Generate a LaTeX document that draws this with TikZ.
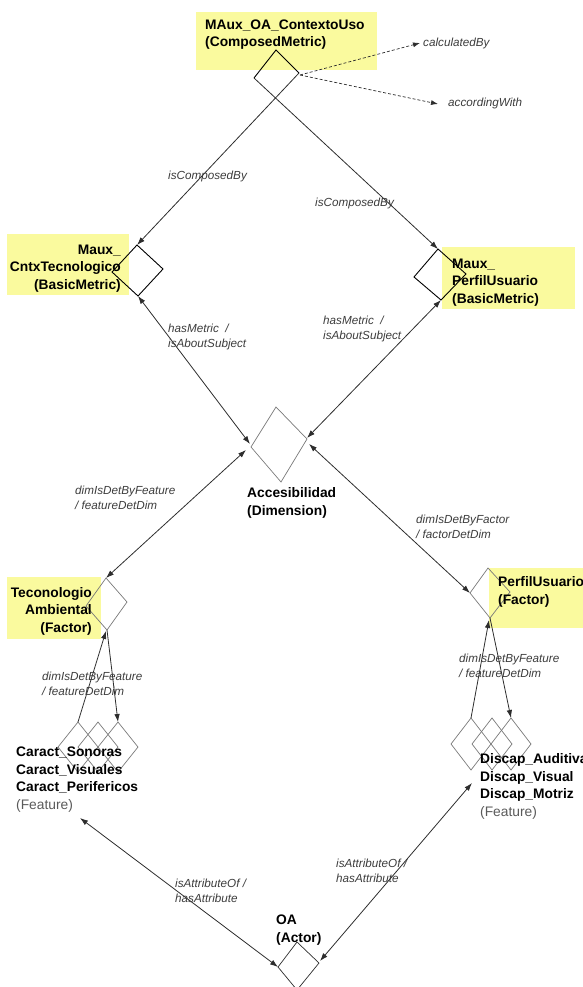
\documentclass[tikz,border=0pt]{standalone}
\usepackage{fontspec}
\setmainfont{Liberation Sans}
\usetikzlibrary{arrows.meta}
\definecolor{notepad}{RGB}{250,250,158}
\definecolor{linegray}{RGB}{45,45,45}
\definecolor{shapegray}{RGB}{120,120,120}
\definecolor{labelgray}{RGB}{60,60,60}
\definecolor{kindgray}{RGB}{90,90,90}

\tikzset{
  notebox/.style={fill=notepad, draw=none},
  nodetitle/.style={font=\fontsize{13.8}{17.5}\selectfont\bfseries, inner sep=0pt, text=black},
  rellabel/.style={font=\fontsize{11.7}{15}\selectfont\itshape, inner sep=0pt, text=labelgray, align=left, anchor=base west},
  connector/.style={draw=linegray, line width=0.8pt},
  oneway/.style={-{Latex[length=8pt,width=5.5pt]}},
  twoway/.style={{Latex[length=8pt,width=5.5pt]}-{Latex[length=8pt,width=5.5pt]}},
  outline/.style={draw=shapegray, line width=0.7pt},
  darkoutline/.style={draw=black, line width=0.9pt},
  optional/.style={draw=linegray, line width=0.7pt, dash pattern=on 3pt off 2pt, -{Latex[length=7pt,width=5pt]}},
}

\begin{document}
\begin{tikzpicture}[x=1pt, y=-1pt]
  \useasboundingbox (0,0) rectangle (583,987);

  % yellow name boxes
  \fill[notebox] (196,12) rectangle (377,70);
  \fill[notebox] (7,234) rectangle (129,295);
  \fill[notebox] (442,247) rectangle (575,309);
  \fill[notebox] (7,577) rectangle (101,639);
  \fill[notebox] (489,568) rectangle (583,628);

  % diamond corners
  \coordinate (cmT) at (276,50);
  \coordinate (cmR) at (299,73);
  \coordinate (cmL) at (254,78);

  \coordinate (cnT) at (137,245);
  \coordinate (cnR) at (163,269);
  \coordinate (cnB) at (138,296);
  \coordinate (cnL) at (112,272);

  \coordinate (puT) at (438,249);
  \coordinate (puR) at (466,274);
  \coordinate (puB) at (441,300);
  \coordinate (puL) at (414,277);

  \coordinate (acT) at (276,407);
  \coordinate (acR) at (307,439);
  \coordinate (acB) at (281,482);
  \coordinate (acL) at (251,447);

  \coordinate (taT) at (106,578);
  \coordinate (taR) at (127,602);
  \coordinate (taB) at (107,630);
  \coordinate (taL) at (86,606);

  \coordinate (pfT) at (488,568);
  \coordinate (pfR) at (510,592);
  \coordinate (pfB) at (490,618);
  \coordinate (pfL) at (470,593);

  \coordinate (oaT) at (297,942);
  \coordinate (oaR) at (319,963);
  \coordinate (oaB) at (297,990);
  \coordinate (oaL) at (278,967);

  % diamonds
  \draw[darkoutline] (cmL) -- (cmT) -- (cmR);
  \draw[darkoutline] (cnT) -- (cnR) -- (cnB) -- (cnL) -- cycle;
  \draw[darkoutline] (puT) -- (puR) -- (puB) -- (puL) -- cycle;
  \draw[outline] (acT) -- (acR) -- (acB) -- (acL) -- cycle;
  \draw[outline] (taT) -- (taR) -- (taB) -- (taL) -- cycle;
  \draw[outline] (pfT) -- (pfR) -- (pfB) -- (pfL) -- cycle;
  \draw[outline, draw=linegray] (oaT) -- (oaR) -- (oaB) -- (oaL) -- cycle;

  % feature diamonds
  \foreach \x [count=\i] in {78,98,118} {
    \coordinate (f\i T) at (\x,722);
    \draw[outline] (\x,722) -- ++(20,25) -- ++(-20,25) -- ++(-20,-25) -- cycle;
  }
  \foreach \x [count=\i] in {471,492,511} {
    \coordinate (g\i T) at (\x,718);
    \draw[outline] (\x,718) -- ++(20,26) -- ++(-20,26) -- ++(-20,-26) -- cycle;
  }

  % connector ends beside the diamond corners
  \coordinate (acLup) at (250,444);
  \coordinate (acLdn) at (246,450);
  \coordinate (acRup) at (307,438);
  \coordinate (acRdn) at (309,444);
  \coordinate (taBup) at (106,631);
  \coordinate (pfBup) at (489,620);
  \coordinate (carEnd) at (80,818);
  \coordinate (disEnd) at (472,783);
  \coordinate (oaRr) at (320,961);
  \coordinate (dashStart) at (300,75);

  % connectors
  \draw[connector, oneway] (cmR) -- (cnT);
  \draw[connector, oneway] (cmL) -- (puT);
  \draw[connector, twoway] (cnB) -- (acLup);
  \draw[connector, twoway] (puB) -- (acRup);
  \draw[connector, twoway] (taT) -- (acLdn);
  \draw[connector, twoway] (pfL) -- (acRdn);
  \draw[connector, oneway] (f1T) -- (taBup);
  \draw[connector, oneway] (taB) -- (f3T);
  \draw[connector, oneway] (g1T) -- (pfBup);
  \draw[connector, oneway] (pfB) -- (g3T);
  \draw[connector, twoway] (carEnd) -- (oaL);
  \draw[connector, twoway] (disEnd) -- (oaRr);

  % relation labels (positions give the baseline of the last line)
  \node[rellabel] (calc) at (423,47) {calculatedBy};
  \node[rellabel] (accw) at (448,107) {accordingWith};
  \draw[optional] (dashStart) -- (420,43);
  \draw[optional] (dashStart) -- (438,104);

  \node[rellabel] (compL) at (168,179) {isComposedBy};
  \node[rellabel] (compR) at (315,206) {isComposedBy};
  \node[rellabel] (metL) at (168,347) {hasMetric~~/\\isAboutSubject};
  \node[rellabel] (metR) at (323,339) {hasMetric~~/\\isAboutSubject};
  \node[rellabel] (dimL) at (75,509) {dimIsDetByFeature\\/ featureDetDim};
  \node[rellabel] (dimR) at (416,538) {dimIsDetByFactor\\/ factorDetDim};
  \node[rellabel] (featL) at (42,695) {dimIsDetByFeature\\/ featureDetDim};
  \node[rellabel] (featR) at (459,677) {dimIsDetByFeature\\/ featureDetDim};
  \node[rellabel] (attL) at (175,902) {isAttributeOf /\\hasAttribute};
  \node[rellabel] (attR) at (336,882) {isAttributeOf /\\hasAttribute};

  % element names (positions give the baseline of the last line)
  \node[nodetitle, align=left, anchor=base west] (ctx) at (205,47) {MAux\_OA\_ContextoUso\\(ComposedMetric)};
  \node[nodetitle, align=right, anchor=base east] (cntx) at (121,289) {Maux\_\\CntxTecnologico\\(BasicMetric)};
  \node[nodetitle, align=left, anchor=base west] (pmet) at (452,303) {Maux\_\\PerfilUsuario\\(BasicMetric)};
  \node[nodetitle, align=left, anchor=base west] (acc) at (247,515) {Accesibilidad\\(Dimension)};
  \node[nodetitle, align=right, anchor=base east] (tec) at (92,632) {Teconologio\\Ambiental\\(Factor)};
  \node[nodetitle, align=left, anchor=base west] (pfac) at (498,604) {PerfilUsuario\\(Factor)};
  \node[nodetitle, align=left, anchor=base west] (car) at (16,809) {Caract\_Sonoras\\Caract\_Visuales\\Caract\_Perifericos\\{\mdseries\color{kindgray}(Feature)}};
  \node[nodetitle, align=left, anchor=base west] (dis) at (480,816) {Discap\_Auditiva\\Discap\_Visual\\Discap\_Motriz\\{\mdseries\color{kindgray}(Feature)}};
  \node[nodetitle, align=left, anchor=base west] (oa) at (276,942) {OA\\(Actor)};
\end{tikzpicture}
\end{document}
